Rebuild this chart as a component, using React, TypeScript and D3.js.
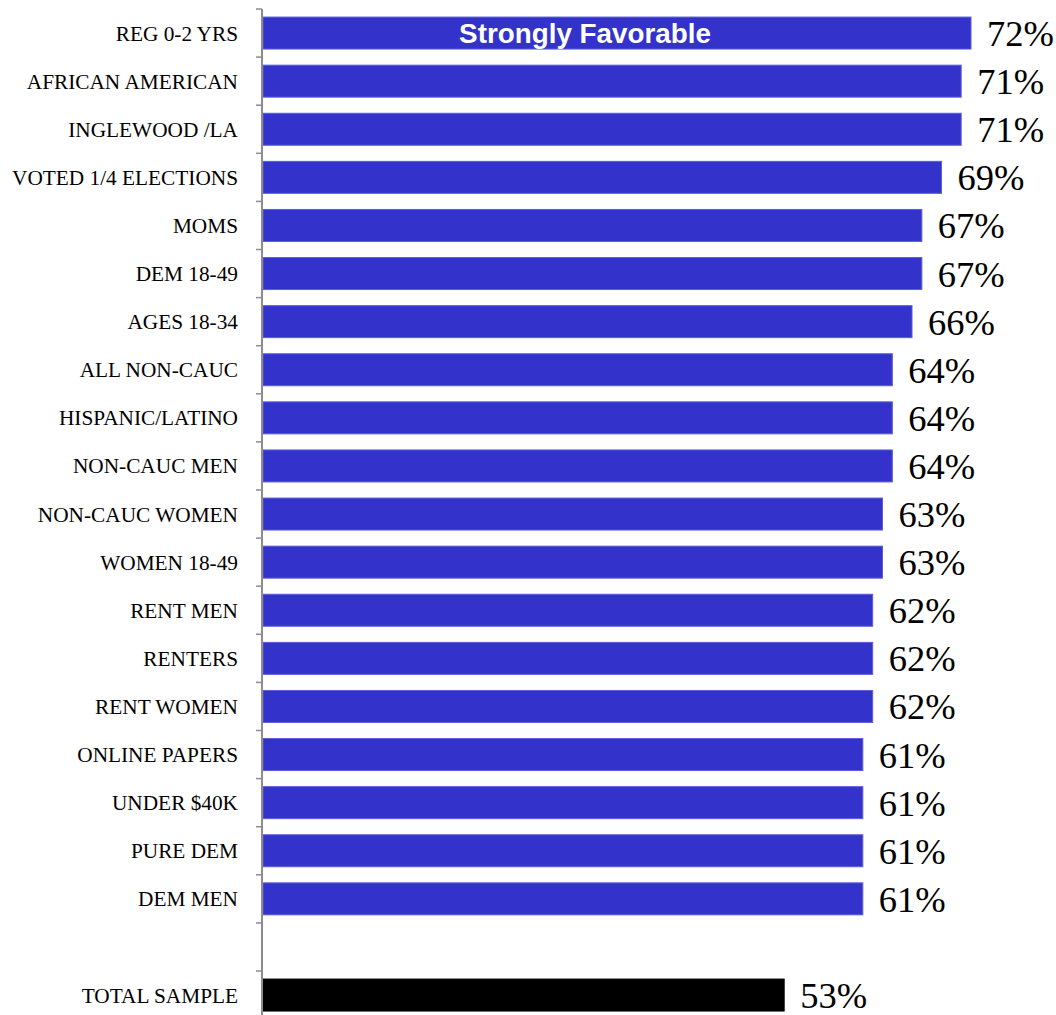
import React from "react";
import * as d3 from "d3";

const categories = [
  "REG 0-2 YRS",
  "AFRICAN AMERICAN",
  "INGLEWOOD /LA",
  "VOTED 1/4 ELECTIONS",
  "MOMS",
  "DEM 18-49",
  "AGES 18-34",
  "ALL NON-CAUC",
  "HISPANIC/LATINO",
  "NON-CAUC MEN",
  "NON-CAUC WOMEN",
  "WOMEN 18-49",
  "RENT MEN",
  "RENTERS",
  "RENT WOMEN",
  "ONLINE PAPERS",
  "UNDER $40K",
  "PURE DEM",
  "DEM MEN",
];
const values = [72, 71, 71, 69, 67, 67, 66, 64, 64, 64, 63, 63, 62, 62, 62, 61, 61, 61, 61];
const totalLabel = "TOTAL SAMPLE";
const totalValue = 53;
const seriesTitle = "Strongly Favorable";

type Row = { key: string; label: string; value: number | null; total: boolean };

const rows: Row[] = [
  ...categories.map((c, i) => ({ key: "r" + i, label: c, value: values[i], total: false })),
  { key: "gap", label: "", value: null, total: false },
  { key: "total", label: totalLabel, value: totalValue, total: true },
];

const SERIF = "Liberation Serif";

export default function App() {
  const width = 1056;
  const height = 1015;
  const axisX = 262;
  const top = 9;
  const step = 48.1;

  const y = d3
    .scaleBand<string>()
    .domain(rows.map((r) => r.key))
    .range([top, top + step * rows.length])
    .paddingInner(0.335)
    .paddingOuter(0.1675);

  const x = d3.scaleLinear().domain([0, 72]).range([263, 971]);

  const tickYs = d3.range(rows.length).map((i) => top + i * y.step());

  return (
    <svg
      width={width}
      height={height}
      style={{ position: "absolute", left: 0, top: 0, background: "#fff" }}
    >
      {rows.map((r) => {
        const yy = y(r.key)!;
        const bw = y.bandwidth();
        const cy = yy + bw / 2;
        return (
          <g key={r.key}>
            {r.label && (
              <text
                x={238}
                y={cy + 7.5}
                textAnchor="end"
                fontFamily={SERIF}
                fontSize={21.3}
                fill="#000"
              >
                {r.label}
              </text>
            )}
            {r.value !== null && (
              <g>
                <rect
                  x={x(0)}
                  y={yy}
                  width={x(r.value) - x(0)}
                  height={bw}
                  fill={r.total ? "#000" : "#3333CC"}
                  stroke={r.total ? "#000" : "#5c5cdc"}
                  strokeWidth={1}
                />
                <text
                  x={x(r.value) + 16}
                  y={cy + 13}
                  fontFamily={SERIF}
                  fontSize={36.5}
                  fill="#000"
                >
                  {r.value + "%"}
                </text>
              </g>
            )}
          </g>
        );
      })}
      <text
        x={585}
        y={y(rows[0].key)! + y.bandwidth() / 2 + 9.5}
        textAnchor="middle"
        fontFamily="Liberation Sans"
        fontWeight="bold"
        fontSize={27.8}
        fill="#fff"
      >
        {seriesTitle}
      </text>
      <line x1={axisX} x2={axisX} y1={top} y2={height} stroke="#8c8c8c" strokeWidth={2} />
      {tickYs.map((ty, i) => (
        <line key={i} x1={axisX - 6} x2={axisX} y1={ty} y2={ty} stroke="#8c8c8c" strokeWidth={1.5} />
      ))}
    </svg>
  );
}
